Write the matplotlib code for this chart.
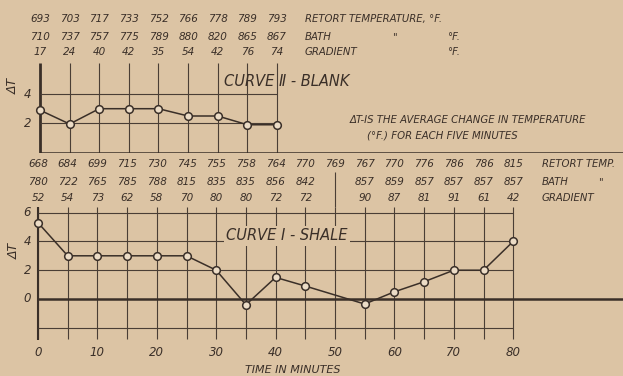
import matplotlib.pyplot as plt

W, H = 623, 376
BG = '#dcc4a4'
INK = '#3a2f28'
GRID = '#4a3e35'
FILL = '#ecdcc6'

# curve II - blank, 0..40 minutes
blank_t = [0, 5, 10, 15, 20, 25, 30, 35, 40]
blank_dt = [2.9, 1.95, 3.0, 3.0, 3.0, 2.5, 2.5, 1.9, 1.9]
blank_retort = ['693', '703', '717', '733', '752', '766', '778', '789', '793']
blank_bath = ['710', '737', '757', '775', '789', '880', '820', '865', '867']
blank_grad = ['17', '24', '40', '42', '35', '54', '42', '76', '74']

# curve I - shale, 0..80 minutes
minutes = [0, 5, 10, 15, 20, 25, 30, 35, 40, 45, 50, 55, 60, 65, 70, 75, 80]
shale_t = [0, 5, 10, 15, 20, 25, 30, 35, 40, 45, 55, 60, 65, 70, 75, 80]
shale_dt = [5.3, 3.0, 3.0, 3.0, 3.0, 3.0, 2.0, -0.4, 1.5, 0.9, -0.35, 0.5, 1.2, 2.0, 2.0, 4.0]
shale_retort = ['668', '684', '699', '715', '730', '745', '755', '758', '764',
                '770', '769', '767', '770', '776', '786', '786', '815']
shale_bath = ['780', '722', '765', '785', '788', '815', '835', '835', '856',
              '842', '', '857', '859', '857', '857', '857', '857']
shale_grad = ['52', '54', '73', '62', '58', '70', '80', '80', '72',
              '72', '', '90', '87', '81', '91', '61', '42']
x_ticks = [0, 10, 20, 30, 40, 50, 60, 70, 80]

plt.rcParams['font.family'] = 'DejaVu Sans'
fig = plt.figure(figsize=(W / 100, H / 100), dpi=100, facecolor=BG)


def make_ax(top, bottom, x0, sx, y0, sy):
    # axes spanning a pixel band, with x in minutes and y in delta T
    ax = fig.add_axes([0, 1 - bottom / H, 1, (bottom - top) / H])
    ax.set_xlim(-x0 / sx, (W - x0) / sx)
    ax.set_ylim((y0 - bottom) / sy, (y0 - top) / sy)
    ax.axis('off')
    px = lambda p: (p - x0) / sx
    py = lambda p: (y0 - p) / sy
    return ax, px, py


def txt(ax, x, y, s, size=7.5, ha='center', **kw):
    ax.text(x, y, s, fontsize=size, ha=ha, va='center', style='italic',
            color=INK, clip_on=False, **kw)


# ---------------- curve II (top) ----------------
ax, px, py = make_ax(0, 153, 40, 5.925, 152.5, 14.6)
ax.vlines(blank_t[1:], 0, py(63), color=GRID, lw=0.8)
ax.vlines(0, 0, py(63), color=INK, lw=2.0)
ax.hlines([4, 2], 0, 40, color=GRID, lw=0.8)
ax.hlines(0, 0, px(W), color=INK, lw=1.8)
ax.plot(blank_t, blank_dt, color=INK, lw=1.1, marker='o', ms=5.5,
        mfc=FILL, mec=INK, mew=1.1, zorder=5)

for row, vals in zip([19, 37, 52], [blank_retort, blank_bath, blank_grad]):
    for t, s in zip(blank_t, vals):
        txt(ax, t, py(row), s)
txt(ax, px(305), py(19), 'RETORT TEMPERATURE, °F.', 7.3, ha='left')
txt(ax, px(305), py(37), 'BATH', 7.3, ha='left')
txt(ax, px(392), py(37), '"', 7.3, ha='left')
txt(ax, px(447), py(37), '°F.', 7.3, ha='left')
txt(ax, px(305), py(52), 'GRADIENT', 7.3, ha='left')
txt(ax, px(447), py(52), '°F.', 7.3, ha='left')

txt(ax, px(224), py(81), 'CURVE Ⅱ - BLANK', 10.5, ha='left')
txt(ax, px(350), py(120), 'ΔT-IS THE AVERAGE CHANGE IN TEMPERATURE', 7.3, ha='left')
txt(ax, px(367), py(135), '(°F.) FOR EACH FIVE MINUTES', 7.3, ha='left')
txt(ax, px(13), py(86), 'ΔT', 9, rotation=90)
for v in [4, 2]:
    txt(ax, px(31), v, str(v), 8.5, ha='right')

# ---------------- curve I (bottom) ----------------
ax, px, py = make_ax(153, 376, 38, 5.94, 299, 14.4)
ax.vlines(minutes, py(339), py(207), color=GRID, lw=0.8)
ax.vlines(0, py(340), py(207), color=INK, lw=1.5)
ax.vlines(50, py(207), py(172), color=GRID, lw=0.8)
ax.hlines([6, 4, 2, -2], 0, 80, color=GRID, lw=0.8)
ax.hlines(0, 0, px(W), color=INK, lw=1.8)
ax.plot(shale_t, shale_dt, color=INK, lw=1.1, marker='o', ms=5.5,
        mfc=FILL, mec=INK, mew=1.1, zorder=5)

for row, vals in zip([164, 182, 198], [shale_retort, shale_bath, shale_grad]):
    for t, s in zip(minutes, vals):
        txt(ax, t, py(row), s)
txt(ax, px(542), py(164), 'RETORT TEMP.', 7.3, ha='left')
txt(ax, px(542), py(182), 'BATH', 7.3, ha='left')
txt(ax, px(598), py(182), '"', 7.3, ha='left')
txt(ax, px(542), py(198), 'GRADIENT', 7.3, ha='left')

txt(ax, px(226), py(236), 'CURVE Ⅰ - SHALE', 10.5, ha='left',
    bbox=dict(boxstyle='square,pad=0.15', fc=BG, ec='none'), zorder=3)
txt(ax, px(14), py(251), 'ΔT', 9, rotation=90)
for v in [6, 4, 2, 0]:
    txt(ax, px(31), v, str(v), 8.5, ha='right')
for t in x_ticks:
    txt(ax, t, py(352), str(t), 8.5)
txt(ax, px(293), py(370), 'TIME IN MINUTES', 8)

fig.savefig('out.png', dpi=100, facecolor=BG)
